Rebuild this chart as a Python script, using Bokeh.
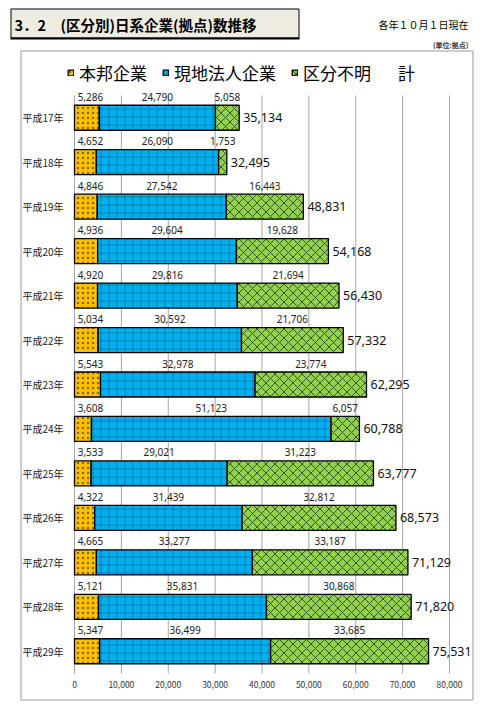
import numpy as np
from bokeh.plotting import figure
from bokeh.models import (ColumnDataSource, Range1d, FixedTicker, NumeralTickFormatter,
                          Legend, LegendItem, Label)
from bokeh.core.properties import value
from bokeh.embed import file_html
from bokeh.resources import INLINE

# ---------------- data ----------------
years = ["平成17年", "平成18年", "平成19年", "平成20年", "平成21年", "平成22年", "平成23年",
         "平成24年", "平成25年", "平成26年", "平成27年", "平成28年", "平成29年"]
honpo = [5286, 4652, 4846, 4936, 4920, 5034, 5543, 3608, 3533, 4322, 4665, 5121, 5347]
genchi = [24790, 26090, 27542, 29604, 29816, 30592, 32978, 51123, 29021, 31439, 33277, 35831, 36499]
fumei = [5058, 1753, 16443, 19628, 21694, 21706, 23774, 6057, 31223, 32812, 33187, 30868, 33685]
total = [35134, 32495, 48831, 54168, 56430, 57332, 62295, 60788, 63777, 68573, 71129, 71820, 75531]
series_names = ["本邦企業", "現地法人企業", "区分不明", "計"]
x_ticks = [0, 10000, 20000, 30000, 40000, 50000, 60000, 70000, 80000]
title_text = "3．2　(区分別)日系企業(拠点)数推移"
date_text = "各年１０月１日現在"
unit_text = "(単位:拠点)"

# ---------------- styles ----------------
JP = "Noto Sans CJK JP"
NUM = "Noto Sans"
COLORS = ["#FFC000", "#00B0F0", "#92D050"]
HATCH = [dict(hatch_pattern="dot", hatch_color="#3a2c00", hatch_scale=5, hatch_weight=0.4, hatch_alpha=0.6),
         dict(hatch_pattern="cross", hatch_color="#0a3850", hatch_scale=8, hatch_weight=0.6, hatch_alpha=0.65),
         dict(hatch_pattern="diagonal_cross", hatch_color="#223a12", hatch_scale=9, hatch_weight=1.0, hatch_alpha=0.8)]
BOX_GREY = "#9a9a9a"
GRID_GREY = "#a6a6a6"

# ---------------- layout (pixels in the page) ----------------
W, H = 480, 704
X0_PX = 74.0               # where value 0 sits
PX_PER_80K = 375.0         # pixels from 0 to 80,000
ROWS_TOP_PX = 95.0         # top of the category area
ROWS_BOT_PX = 673.0        # bottom of the category area
NROW = len(years)
ROW_PX = (ROWS_BOT_PX - ROWS_TOP_PX) / NROW

k = 80000 / PX_PER_80K
x_range = Range1d(-X0_PX * k, (W - X0_PX) * k)
y_at_top = (NROW - 0.5) + ROWS_TOP_PX / ROW_PX
y_at_bot = (NROW - 0.5) - (H - ROWS_TOP_PX) / ROW_PX
y_range = Range1d(y_at_bot, y_at_top)

p = figure(width=W, height=H, output_backend="svg", toolbar_location=None,
           x_range=x_range, y_range=y_range,
           min_border_left=0, min_border_right=0, min_border_top=0, min_border_bottom=0,
           background_fill_color="white", border_fill_color="white")
p.outline_line_color = None
p.grid.visible = False
# pixel coordinate system for the decorations (title, notes, frame box)
p.extra_x_ranges = {"px": Range1d(0, W)}
p.extra_y_ranges = {"px": Range1d(H, 0)}
PX = dict(x_range_name="px", y_range_name="px")

# ---------------- title strip ----------------
p.quad(left=10.5, right=298.5, top=8.5, bottom=37.5, fill_color="#EEECE1",
       line_color="black", line_width=1, **PX)
p.segment(x0=10, y0=38, x1=299, y1=38, line_color="black", line_width=2, **PX)
p.add_layout(Label(x=14, y=23.5, text=title_text, text_baseline="middle", text_align="left",
                   text_font=JP, text_font_style="bold", text_font_size="14.5px", text_color="black", **PX))
p.add_layout(Label(x=468, y=24, text=date_text, text_baseline="middle", text_align="right",
                   text_font=JP, text_font_size="10px", text_color="black", **PX))
p.add_layout(Label(x=468, y=44.5, text=unit_text, text_baseline="middle", text_align="right",
                   text_font=JP, text_font_style="bold", text_font_size="7px", text_color="#333333", **PX))
# chart box
p.line(x=[20.5, 472.5, 472.5, 20.5, 20.5], y=[50.5, 50.5, 699.5, 699.5, 50.5],
       line_color=BOX_GREY, line_width=1, **PX)

# ---------------- bars ----------------
y_pos = np.arange(NROW)[::-1]            # first year on top
h = np.array(honpo)
g = np.array(genchi)
f = np.array(fumei)
t = np.array(total)
src = ColumnDataSource(dict(
    y=y_pos,
    h0=np.zeros(NROW), h1=h,
    g0=h, g1=h + g,
    f0=h + g, f1=h + g + f,
    tot=t, tot_lbl=[f"{v:,}" for v in total],
))

# vertical gridlines limited to the category area
p.segment(x0=x_ticks, x1=x_ticks, y0=-0.5, y1=NROW - 0.5, line_color=GRID_GREY, line_width=1)

bar_h = 0.5625
r_h = p.hbar(y="y", left="h0", right="h1", height=bar_h, source=src,
             fill_color=COLORS[0], line_color="black", line_width=1.3, **HATCH[0])
r_g = p.hbar(y="y", left="g0", right="g1", height=bar_h, source=src,
             fill_color=COLORS[1], line_color="black", line_width=1.3, **HATCH[1])
r_f = p.hbar(y="y", left="f0", right="f1", height=bar_h, source=src,
             fill_color=COLORS[2], line_color="black", line_width=1.3, **HATCH[2])

# segment value labels above the bars
seg_y, seg_x, seg_t = [], [], []
for lo, hi, vals in ((src.data["h0"], src.data["h1"], honpo),
                     (src.data["g0"], src.data["g1"], genchi),
                     (src.data["f0"], src.data["f1"], fumei)):
    mid = np.maximum((np.asarray(lo) + np.asarray(hi)) / 2.0, 3400)
    seg_x += list(mid)
    seg_y += list(y_pos)
    seg_t += [f"{v:,}" for v in vals]
seg_src = ColumnDataSource(dict(x=seg_x, y=seg_y, t=seg_t))
p.text(x="x", y="y", text="t", source=seg_src, y_offset=-21,
       text_align="center", text_baseline="middle",
       text_font=value(NUM), text_font_size="10px", text_color="#222222")

# totals
r_t = p.text(x="tot", y="y", text="tot_lbl", source=src, x_offset=4,
             text_align="left", text_baseline="middle",
             text_font=value(NUM), text_font_size="12.5px", text_color="#111111")

# ---------------- axes (labels drawn inward onto the canvas) ----------------
p.xaxis.ticker = FixedTicker(ticks=x_ticks)
p.xaxis.formatter = NumeralTickFormatter(format="0,0")
p.xaxis.axis_line_color = None
p.xaxis.major_tick_line_color = None
p.xaxis.minor_tick_line_color = None
p.xaxis.major_tick_out = 0
p.xaxis.major_tick_in = 0
p.xaxis.major_label_standoff = -24
p.xaxis.major_label_text_font = JP
p.xaxis.major_label_text_font_size = "8.5px"
p.xaxis.major_label_text_color = "#333333"

p.yaxis.ticker = FixedTicker(ticks=list(range(NROW)))
p.yaxis.major_label_overrides = {int(yp): lbl for yp, lbl in zip(y_pos, years)}
p.yaxis.axis_line_color = None
p.yaxis.major_tick_line_color = None
p.yaxis.minor_tick_line_color = None
p.yaxis.major_tick_out = 0
p.yaxis.major_tick_in = 0
p.yaxis.major_label_standoff = -63
p.yaxis.major_label_text_font = JP
p.yaxis.major_label_text_font_size = "10px"
p.yaxis.major_label_text_color = "#222222"

# ---------------- legend ----------------
legend = Legend(items=[LegendItem(label=n, renderers=[r]) for n, r in zip(series_names, [r_h, r_g, r_f, r_t])],
                location=(67, H - 85), orientation="horizontal",
                glyph_width=7, glyph_height=7, label_standoff=5, spacing=15,
                padding=0, margin=0, border_line_color=None, background_fill_alpha=0,
                label_text_font=JP, label_text_font_size="17px", label_text_color="black",
                label_height=20)
p.add_layout(legend)

open("out.html", "w").write(file_html(p, INLINE))
